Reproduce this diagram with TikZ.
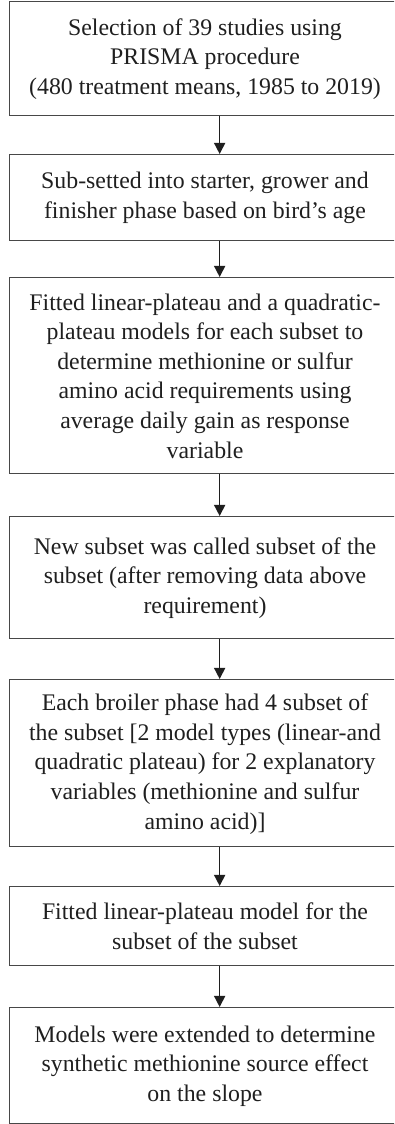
\documentclass[tikz,border=0pt]{standalone}
\usepackage{fontspec}
\setmainfont{Liberation Serif}
\usetikzlibrary{arrows.meta}
\begin{document}
\begin{tikzpicture}[x=1pt,y=1pt,
  stepbox/.style={draw=black!72, line width=1.3pt, minimum width=421pt, anchor=north west, inner sep=0pt},
  steptext/.style={text=black!88, align=center, inner sep=0pt, font=\fontsize{23.8}{29.6}\selectfont},
  flow/.style={draw=black!88, line width=1.4pt, -{Triangle[length=11pt,width=11pt]}}]
\useasboundingbox (0,0) rectangle (394,1124);
\clip (0,0) rectangle (394,1124);
% boxes (top edge measured from the top of the page)
\node[stepbox, minimum height=114pt] (b1) at (8.5,1124-1) {};
\node[stepbox, minimum height=86pt]  (b2) at (8.5,1124-154) {};
\node[stepbox, minimum height=196pt] (b3) at (8.5,1124-277) {};
\node[stepbox, minimum height=122pt] (b4) at (8.5,1124-516) {};
\node[stepbox, minimum height=167pt] (b5) at (8.5,1124-679) {};
\node[stepbox, minimum height=79pt]  (b6) at (8.5,1124-886) {};
\node[stepbox, minimum height=116pt] (b7) at (8.5,1124-1007) {};
% box texts
\node[steptext] (t1) at (205,1124-59) {Selection of 39 studies using\\PRISMA procedure\\(480 treatment means, 1985 to 2019)};
\node[steptext] (t2) at (205,1124-198) {Sub-setted into starter, grower and\\finisher phase based on bird’s age};
\node[steptext] (t3) at (205,1124-376) {Fitted linear-plateau and a quadratic-\\plateau models for each subset to\\determine methionine or sulfur\\amino acid requirements using\\average daily gain as response\\variable};
\node[steptext] (t4) at (205,1124-578) {New subset was called subset of the\\subset (after removing data above\\requirement)};
\node[steptext] (t5) at (205,1124-764) {Each broiler phase had 4 subset of\\the subset [2 model types (linear-and\\quadratic plateau) for 2 explanatory\\variables (methionine and sulfur\\amino acid)]};
\node[steptext] (t6) at (205,1124-926) {Fitted linear-plateau model for the\\subset of the subset};
\node[steptext] (t7) at (205,1124-1066) {Models were extended to determine\\synthetic methionine source effect\\on the slope};
% connectors
\draw[flow] (b1.south) -- (b2.north);
\draw[flow] (b2.south) -- (b3.north);
\draw[flow] (b3.south) -- (b4.north);
\draw[flow] (b4.south) -- (b5.north);
\draw[flow] (b5.south) -- (b6.north);
\draw[flow] (b6.south) -- (b7.north);
\end{tikzpicture}
\end{document}
